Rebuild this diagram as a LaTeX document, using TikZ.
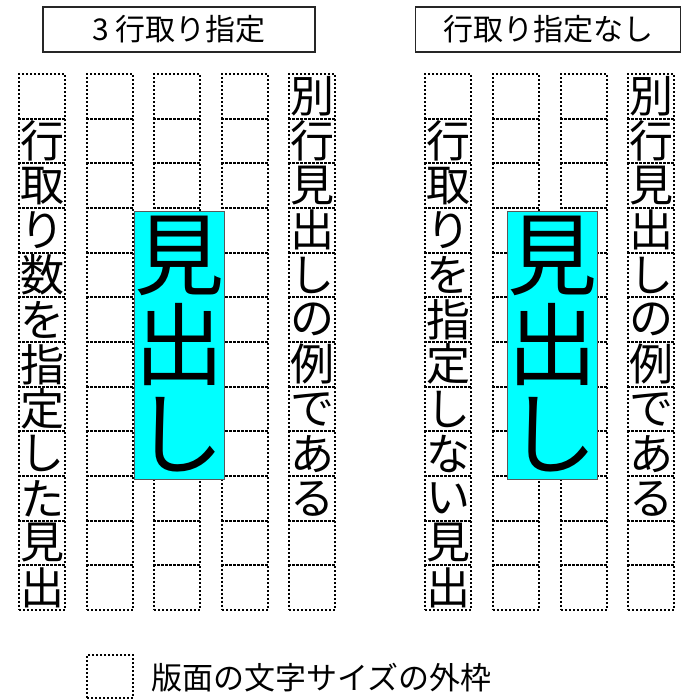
\documentclass[tikz,border=0pt]{standalone}
\usepackage{fontspec}
\setmainfont{Noto Sans CJK JP}
\definecolor{headcyan}{RGB}{0,255,255}
\begin{document}
\begin{tikzpicture}[x=1pt,y=-1pt,
  cell/.style={draw, line width=2pt, dash pattern=on 2pt off 2pt, minimum width=46pt, minimum height=44.67pt, inner sep=0pt, outer sep=0pt},
  cellch/.style={inner sep=0pt, font=\fontsize{44}{44}\selectfont},
  titlebox/.style={draw=black!85, line width=1.2pt, inner sep=0pt, minimum height=45pt, font=\fontsize{30}{30}\selectfont},
  headbox/.style={draw=black!65, line width=0.8pt, fill=headcyan, minimum width=90pt, minimum height=268pt, inner sep=0pt},
  headch/.style={inner sep=0pt, font=\fontsize{90}{90}\selectfont},
  legtext/.style={anchor=west, inner sep=0pt, font=\fontsize{31}{31}\selectfont}]
\useasboundingbox (0,0) rectangle (682,699);
\fill[white] (0,0) rectangle (682,699);
% titles
\node[titlebox, minimum width=272pt] (tL) at (179,29.5) {3 行取り指定};
\node[titlebox, minimum width=265pt] (tR) at (548,29.5) {行取り指定なし};
% grid cells, left panel
\foreach \x [count=\c] in {42,110,177,245,312}
  \foreach \r in {1,...,12}
    \node[cell] (L\c-\r) at (\x,{74+44.67*(\r-0.5)}) {};
% grid cells, right panel
\foreach \x [count=\c] in {448,516,584,651}
  \foreach \r in {1,...,12}
    \node[cell] (R\c-\r) at (\x,{74+44.67*(\r-0.5)}) {};
% column texts
\foreach \ch [count=\r from 2] in {行,取,り,数,を,指,定,し,た,見,出}
  \node[cellch] (Lt1-\r) at (L1-\r) {\ch};
\foreach \ch [count=\r from 1] in {別,行,見,出,し,の,例,で,あ,る}
  \node[cellch] (Lt5-\r) at (L5-\r) {\ch};
\foreach \ch [count=\r from 2] in {行,取,り,を,指,定,し,な,い,見,出}
  \node[cellch] (Rt1-\r) at (R1-\r) {\ch};
\foreach \ch [count=\r from 1] in {別,行,見,出,し,の,例,で,あ,る}
  \node[cellch] (Rt4-\r) at (R4-\r) {\ch};
% headings
\node[headbox] (hL) at (179,345) {};
\node[headch] (hL1) at (179,255.67) {見};
\node[headch] (hL2) at (179,345) {出};
\node[headch] (hL3) at (179,434.33) {し};
\node[headbox] (hR) at (552,345) {};
\node[headch] (hR1) at (552,255.67) {見};
\node[headch] (hR2) at (552,345) {出};
\node[headch] (hR3) at (552,434.33) {し};
% legend
\node[cell, minimum height=43pt] (leg) at (110,676.5) {};
\node[legtext] (legt) at (151,678) {版面の文字サイズの外枠};
\end{tikzpicture}
\end{document}
